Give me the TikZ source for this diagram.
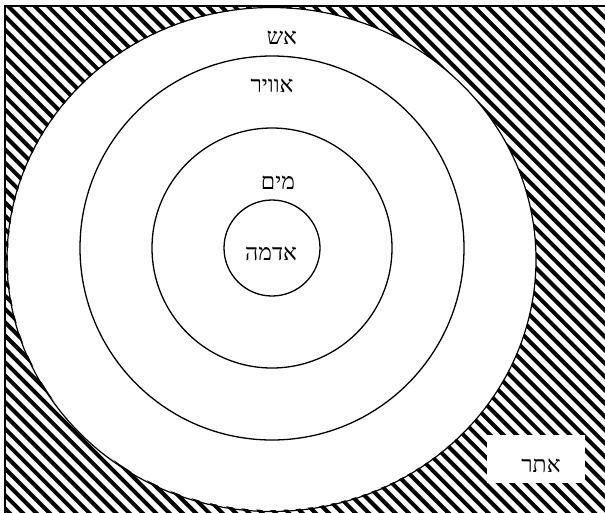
\documentclass[tikz,border=0pt]{standalone}
\usepackage{fontspec}
\setmainfont{Liberation Serif}
\newfontfamily\hebfont[Script=Hebrew]{Liberation Serif}
\TeXXeTstate=1
\begin{document}
\begin{tikzpicture}[x=1pt,y=-1pt,
  lbl/.style={font=\hebfont\fontsize{23}{25}\selectfont, inner sep=0pt},
  ring/.style={draw, circle, line width=1.3pt, inner sep=0pt},
  hatchline/.style={line width=4pt}]
\useasboundingbox (0,0) rectangle (605,512);
\clip (0,0) rectangle (605,512);
% hatched background
\begin{scope}
  \clip (5,6) rectangle (612,520);
  \foreach \c in {-530,-516.7,...,620} \draw[hatchline] (\c,0) -- ++(540,540);
\end{scope}
\draw[line width=1.5pt] (5,520) -- (5,6) -- (612,6);
% outer white region
\fill[white] (272,259) ellipse [x radius=264, y radius=251];
\draw[line width=1.2pt] (271.5,259.5) ellipse [x radius=264.5, y radius=252];
% concentric circles
\node[ring, minimum size=384pt] (air) at (272,248) {};
\node[ring, minimum size=240pt] (water) at (272,248) {};
\node[ring, minimum size=96pt] (earth) at (272,248) {};
% ether box
\fill[white] (487,435) rectangle (585,483);
% labels
\node[lbl] (esh) at (282,38) {\beginR אש\endR};
\node[lbl] (avir) at (272,86) {\beginR אוויר\endR};
\node[lbl] (mayim) at (278,183) {\beginR מים\endR};
\node[lbl] (adama) at (271,254) {\beginR אדמה\endR};
\node[lbl] (ether) at (541,466) {\beginR אתר\endR};
\end{tikzpicture}
\end{document}
